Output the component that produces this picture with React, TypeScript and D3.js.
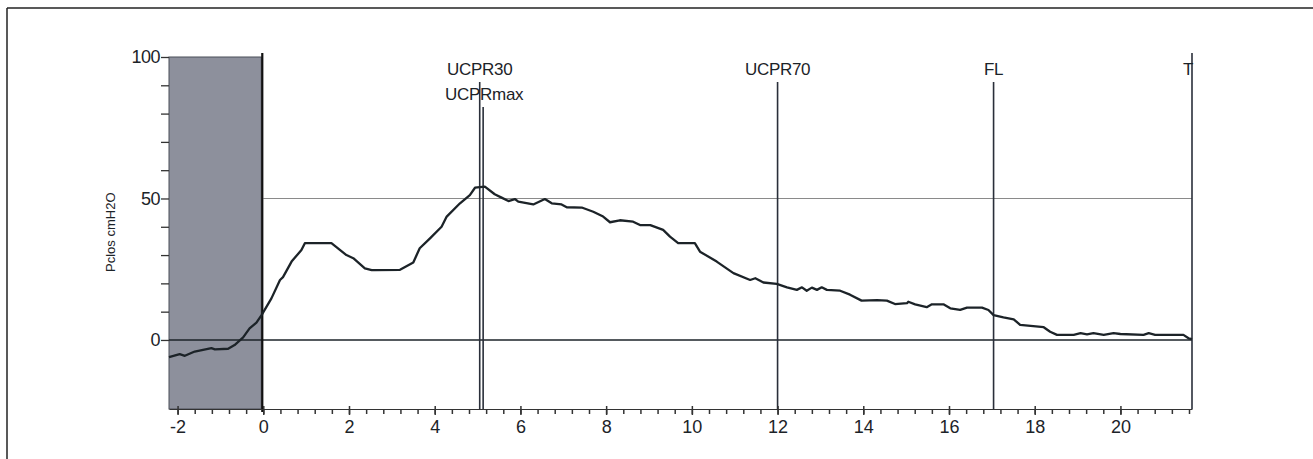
import { useEffect, useRef } from "react";
import * as d3 from "d3";

const W = 1313;
const H = 459;

const marginLeft = 169;
const marginRight = 121;
const marginTop = 57;
const marginBottom = 50;

// time (s) vs closure pressure (cmH2O)
const time = [
  -2.2, -1.95, -1.83, -1.6, -1.21, -1.13, -0.82, -0.67, -0.47, -0.32, -0.16,
  -0.04, 0.19, 0.39, 0.46, 0.66, 0.89, 0.97, 1.59, 1.94, 2.1, 2.37, 2.53, 2.6,
  3.19, 3.5, 3.65, 3.89, 4.16, 4.28, 4.59, 4.82, 4.94, 5.17, 5.4, 5.56, 5.72,
  5.87, 5.95, 6.3, 6.57, 6.73, 6.96, 7.08, 7.43, 7.7, 7.93, 8.09, 8.32, 8.63,
  8.79, 9.03, 9.33, 9.49, 9.68, 10.07, 10.19, 10.58, 10.97, 11.36, 11.48,
  11.67, 11.98, 12.22, 12.45, 12.57, 12.68, 12.8, 12.92, 13.03, 13.15, 13.46,
  13.69, 13.96, 14.32, 14.55, 14.74, 15.02, 15.05, 15.21, 15.48, 15.6, 15.87,
  16.03, 16.26, 16.42, 16.77, 16.92, 17.04, 17.27, 17.51, 17.66, 18.21, 18.36,
  18.52, 18.91, 19.07, 19.22, 19.37, 19.61, 19.84, 20.0, 20.54, 20.66, 20.81,
  21.47, 21.59, 21.67,
];
const pclos = [
  -6.1, -5.0, -5.6, -4.1, -2.9, -3.3, -3.1, -1.8, 0.9, 4.1, 6.1, 8.8, 14.7,
  21.2, 22.2, 27.7, 31.8, 34.2, 34.2, 30.0, 28.9, 25.3, 24.7, 24.7, 24.8, 27.4,
  32.4, 35.9, 40.0, 43.6, 48.3, 51.2, 53.8, 54.2, 51.5, 50.3, 49.1, 49.8, 48.9,
  47.9, 49.8, 48.3, 47.9, 46.9, 46.8, 45.3, 43.6, 41.6, 42.3, 41.8, 40.6, 40.6,
  38.9, 36.5, 34.2, 34.2, 31.2, 27.7, 23.6, 21.2, 21.8, 20.3, 19.8, 18.6, 17.7,
  18.6, 17.4, 18.5, 17.7, 18.6, 17.7, 17.4, 16.0, 13.9, 14.1, 13.9, 12.7, 13.0,
  13.5, 12.6, 11.6, 12.6, 12.6, 11.2, 10.6, 11.4, 11.4, 10.6, 8.8, 8.0, 7.3,
  5.3, 4.5, 2.9, 1.8, 1.8, 2.4, 2.0, 2.4, 1.8, 2.4, 2.1, 1.8, 2.4, 1.8, 1.8,
  0.6, 0.3,
];

const markerNames = ["UCPR30", "UCPRmax", "UCPR70", "FL", "T"];
const markerTimes = [5.05, 5.13, 12.0, 17.04, 21.67];

const xTickLabels = [-2, 0, 2, 4, 6, 8, 10, 12, 14, 16, 18, 20];
const yTickLabels = [0, 50, 100];
const yMinorTicks = [10, 20, 30, 40, 60, 70, 80, 90];

const font = "'Liberation Sans', Arial, sans-serif";
const ink = "#1c2328";

const App = () => {
  const xAxisRef = useRef<SVGGElement>(null);
  const xMinorRef = useRef<SVGGElement>(null);
  const yAxisRef = useRef<SVGGElement>(null);

  const chartBottomY = H - marginBottom;
  const chartRightX = W - marginRight;

  const x = d3.scaleLinear().domain([-2.2, 21.67]).range([marginLeft, chartRightX]);
  const y = d3.scaleLinear().domain([-24.4, 100]).range([chartBottomY, marginTop]);

  const line = d3
    .line<number>()
    .x((_, i) => x(time[i]))
    .y((d) => y(d));

  // minor ticks every 0.4 s
  const xMinor = d3.range(-2, 21.7, 0.4).map((v) => Math.round(v * 10) / 10);

  useEffect(() => {
    const xAxis = d3
      .axisBottom(x)
      .tickValues(xTickLabels)
      .tickSize(6)
      .tickSizeOuter(0)
      .tickPadding(5)
      .tickFormat((d) => String(d)); // plain hyphen, like the original print
    const g = d3.select(xAxisRef.current).call(xAxis);
    g.select(".domain").attr("stroke", "#333").attr("stroke-width", 1.2);
    g.selectAll(".tick line").attr("y1", -3).attr("stroke", "#333").attr("stroke-width", 1.5);
    g.selectAll(".tick text")
      .attr("font-size", "18px")
      .attr("font-family", font)
      .attr("fill", ink);

    const minor = d3.axisBottom(x).tickValues(xMinor).tickSize(5).tickSizeOuter(0).tickFormat(() => "");
    const m = d3.select(xMinorRef.current).call(minor);
    m.select(".domain").remove();
    m.selectAll(".tick line").attr("stroke", "#333").attr("stroke-width", 1.5);

    const yAxis = d3
      .axisLeft(y)
      .tickValues([...yTickLabels, ...yMinorTicks])
      .tickSize(8)
      .tickSizeOuter(0)
      .tickPadding(1)
      .tickFormat((d) => (yTickLabels.includes(d as number) ? String(d) : ""));
    const gy = d3.select(yAxisRef.current).call(yAxis);
    gy.select(".domain").remove();
    gy.selectAll(".tick line").attr("stroke", "#333").attr("stroke-width", 1.3);
    gy.selectAll(".tick text")
      .attr("font-size", "18px")
      .attr("font-family", font)
      .attr("letter-spacing", "-0.5")
      .attr("fill", ink);
  }, []);

  const lineTop = (name: string) =>
    name === "T" ? 53 : name === "UCPRmax" ? 107 : 82;

  return (
    <div style={{ position: "absolute", left: 0, top: 0 }}>
      <svg width={W} height={H} viewBox={`0 0 ${W} ${H}`} style={{ display: "block", background: "#fff" }}>
        {/* frame of the scanned figure */}
        <line x1={7} x2={W} y1={8} y2={8} stroke="#222" strokeWidth={1.5} />
        <line x1={7} x2={7} y1={8} y2={H} stroke="#222" strokeWidth={1.5} />

        {/* pre-void shaded area */}
        <rect
          x={x(-2.2)}
          y={y(100)}
          width={x(0) - x(-2.2) - 2}
          height={y(-24.4) - y(100)}
          fill="#8d909c"
          stroke="#4a4e58"
          strokeWidth={1}
        />

        {/* reference lines */}
        <line x1={x(0)} x2={chartRightX} y1={y(50)} y2={y(50)} stroke="#8a8a8a" strokeWidth={1.2} />
        <line x1={marginLeft} x2={chartRightX} y1={y(0)} y2={y(0)} stroke={ink} strokeWidth={1.6} />
        <line x1={x(0) - 1} x2={x(0) - 1} y1={53} y2={chartBottomY + 3} stroke="#111" strokeWidth={2.2} />

        {markerNames.map((name, i) => (
          <line
            key={name}
            x1={x(markerTimes[i])}
            x2={x(markerTimes[i])}
            y1={lineTop(name)}
            y2={chartBottomY}
            stroke="#2a2f3a"
            strokeWidth={1.6}
          />
        ))}

        {markerNames.map((name, i) => (
          <text
            key={name}
            x={name === "T" ? x(markerTimes[i]) + 1 : x(markerTimes[i]) + (name === "UCPRmax" ? 1 : 0)}
            y={name === "UCPRmax" ? 100 : 75}
            textAnchor={name === "T" ? "end" : "middle"}
            fontFamily={font}
            fontSize={17}
            letterSpacing={-0.3}
            fill={ink}
          >
            {name}
          </text>
        ))}

        <path d={line(pclos) ?? ""} fill="none" stroke={ink} strokeWidth={2.3} strokeLinejoin="round" />

        <g ref={xMinorRef} transform={`translate(0,${chartBottomY})`} />
        <g ref={xAxisRef} transform={`translate(0,${chartBottomY})`} />
        <g ref={yAxisRef} transform={`translate(${marginLeft},0)`} />

        <text
          transform={`translate(115,${(y(0) + y(50)) / 2 - 37}) rotate(-90)`}
          textAnchor="middle"
          fontFamily={font}
          fontSize={13}
          fill={ink}
        >
          Pclos cmH2O
        </text>
      </svg>
    </div>
  );
};

export default App;
